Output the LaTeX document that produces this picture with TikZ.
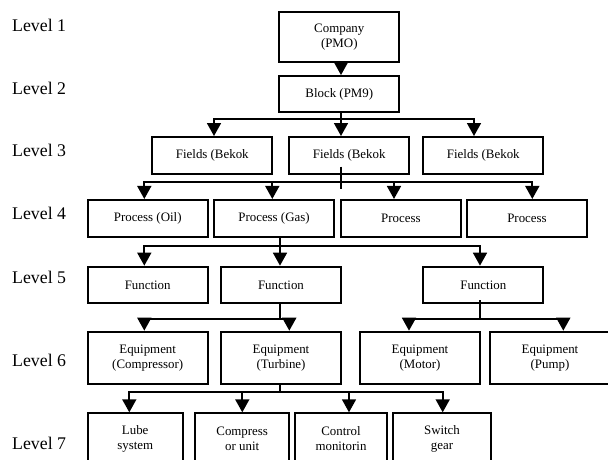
\documentclass[tikz,border=0pt]{standalone}
\usepackage{fontspec}
\setmainfont{Liberation Serif}
\usetikzlibrary{arrows.meta}
\tikzset{
  box/.style={draw, line width=2pt, fill=white, inner sep=0pt, align=center,
    font=\fontsize{12.9pt}{15pt}\selectfont, minimum width=120pt},
  levellabel/.style={anchor=west, inner sep=0pt, font=\fontsize{17.8pt}{20pt}\selectfont},
  conn/.style={line width=1.7pt},
  arr/.style={conn, -{Triangle[width=14pt,length=13pt]}}
}
\begin{document}
\begin{tikzpicture}[x=1pt,y=-1pt]
\useasboundingbox (0,0) rectangle (608,459);
\clip (0,0) rectangle (608,459);
\fill[white] (0,0) rectangle (608,459);

% level labels
\node[levellabel] (l1) at (12,25) {Level 1};
\node[levellabel] (l2) at (12,88.3) {Level 2};
\node[levellabel] (l3) at (12,150) {Level 3};
\node[levellabel] (l4) at (12,213) {Level 4};
\node[levellabel] (l5) at (12,277) {Level 5};
\node[levellabel] (l6) at (12,360) {Level 6};
\node[levellabel] (l7) at (12,443) {Level 7};

% boxes
\node[box, minimum height=50pt] (company) at (339.3,37.3) {Company\\(PMO)};
\node[box, minimum height=35.7pt] (block) at (339.3,93.9) {Block (PM9)};

\node[box, minimum height=37pt] (f1) at (212.3,155.5) {Fields (Bekok};
\node[box, minimum height=37pt] (f2) at (349.2,155.5) {Fields (Bekok};
\node[box, minimum height=37pt] (f3) at (483.3,155.5) {Fields (Bekok};

\node[box, minimum height=36.7pt] (p1) at (147.7,218.3) {Process (Oil)};
\node[box, minimum height=36.7pt] (p2) at (274,218.3) {Process (Gas)};
\node[box, minimum height=36.7pt] (p3) at (400.9,218.3) {Process};
\node[box, minimum height=36.7pt, minimum width=120.6pt] (p4) at (527,218.3) {Process};

\node[box, minimum height=36.7pt] (fn1) at (147.7,285) {Function};
\node[box, minimum height=36.7pt] (fn2) at (281,285) {Function};
\node[box, minimum height=36.7pt] (fn3) at (483.3,285) {Function};

\node[box, minimum height=52.3pt] (e1) at (147.7,357.8) {Equipment\\(Compressor)};
\node[box, minimum height=52.3pt] (e2) at (281,357.8) {Equipment\\(Turbine)};
\node[box, minimum height=52.3pt] (e3) at (420,357.8) {Equipment\\(Motor)};
\node[box, minimum height=52.3pt] (e4) at (550,357.8) {Equipment\\(Pump)};

\node[box, minimum height=51.4pt, minimum width=95pt] (s1) at (135.2,439) {Lube\\system};
\node[box, minimum height=51.4pt, minimum width=94.3pt] (s2) at (242.2,439) {Compress\\or unit};
\node[box, minimum height=51.4pt, minimum width=91.7pt] (s3) at (341,439) {Control\\monitorin};
\node[box, minimum height=51.4pt, minimum width=97.4pt] (s4) at (442,439) {Switch\\gear};

% level 1 -> 2
\draw[arr] ([xshift=1.7pt]company.south) -- ([xshift=1.7pt]block.north);

% level 2 -> 3
\coordinate (bus3) at (341,119.3);
\draw[conn] ([xshift=1.7pt]block.south) -- (bus3);
\draw[arr] (bus3) -| ([xshift=1.7pt]f1.north);
\draw[arr] (bus3) -| ([xshift=-8.2pt]f2.north);
\draw[arr] (bus3) -| ([xshift=-9.3pt]f3.north);

% level 3 -> 4
\coordinate (bus4) at (341,181.7);
\coordinate (f2a) at (341,166.7);
\coordinate (f2b) at (341,189);
\draw[conn] (f2a) -- (f2b);
\draw[arr] (bus4) -| ([xshift=-3.4pt]p1.north);
\draw[arr] (bus4) -| ([xshift=-1.7pt]p2.north);
\draw[arr] (bus4) -| ([xshift=-6.9pt]p3.north);
\draw[arr] (bus4) -| ([xshift=5.3pt]p4.north);

% level 4 -> 5
\coordinate (bus5) at (280,245.7);
\draw[conn] ([xshift=6pt]p2.south) -- (bus5);
\draw[arr] (bus5) -| ([xshift=-3.4pt]fn1.north);
\draw[arr] (bus5) -| ([xshift=-1pt]fn2.north);
\draw[arr] (bus5) -| ([xshift=-3.3pt]fn3.north);

% level 5 -> 6
\coordinate (bus6a) at (280,319.3);
\draw[conn] ([xshift=-1pt]fn2.south) -- (bus6a);
\draw[arr] (bus6a) -| ([xshift=-3.4pt]e1.north);
\draw[arr] (bus6a) -| ([xshift=8.3pt]e2.north);
\coordinate (bus6b) at (480,319.3);
\coordinate (fn3a) at (480,300);
\draw[conn] (fn3a) -- (bus6b);
\draw[arr] (bus6b) -| ([xshift=-11pt]e3.north);
\draw[arr] (bus6b) -| ([xshift=13.3pt]e4.north);

% level 6 -> 7
\coordinate (bus7) at (280,392.3);
\draw[conn] ([xshift=-1pt]e2.south) -- (bus7);
\draw[arr] (bus7) -| ([xshift=-5.9pt]s1.north);
\draw[arr] (bus7) -| ([xshift=0.1pt]s2.north);
\draw[arr] (bus7) -| ([xshift=8pt]s3.north);
\draw[arr] (bus7) -| ([xshift=0.7pt]s4.north);
\end{tikzpicture}
\end{document}
